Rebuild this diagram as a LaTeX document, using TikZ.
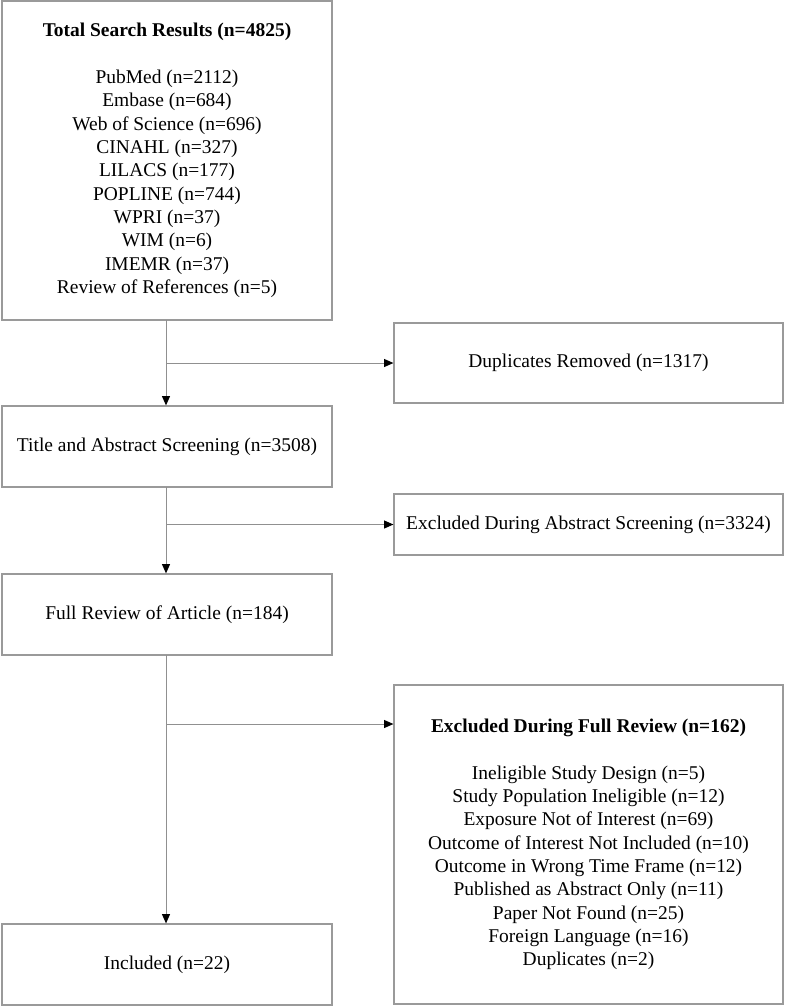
\documentclass[tikz,border=0pt]{standalone}
\usepackage{fontspec}
\setmainfont{Liberation Serif}
\usetikzlibrary{arrows.meta}
\definecolor{boxgray}{HTML}{9A9A9A}
\definecolor{linegray}{HTML}{909090}
\begin{document}
\begin{tikzpicture}[x=0.75pt,y=-0.75pt,
  box/.style={draw=boxgray,line width=0.9pt,fill=white,inner sep=0pt,align=center,
    font=\fontsize{14.6pt}{17.5pt}\selectfont},
  conn/.style={draw=linegray,line width=0.75pt,-{Triangle[length=7pt,width=6pt,color=black]}}]
\useasboundingbox (0,0) rectangle (786,1007);
\node[box,minimum width=330*0.75pt,minimum height=319*0.75pt] (tsr) at (167,160.5)
  {\textbf{Total Search Results (n=4825)}\\[17.5pt]
   PubMed (n=2112)\\ Embase (n=684)\\ Web of Science (n=696)\\ CINAHL (n=327)\\
   LILACS (n=177)\\ POPLINE (n=744)\\ WPRI (n=37)\\ WIM (n=6)\\ IMEMR (n=37)\\
   Review of References (n=5)};
\node[box,minimum width=389*0.75pt,minimum height=80*0.75pt] (dup) at (588.5,363)
  {Duplicates Removed (n=1317)};
\node[box,minimum width=330*0.75pt,minimum height=81*0.75pt] (title) at (167,446.5)
  {Title and Abstract Screening (n=3508)};
\node[box,minimum width=389*0.75pt,minimum height=61*0.75pt] (exa) at (588.5,524.5)
  {Excluded During Abstract Screening (n=3324)};
\node[box,minimum width=330*0.75pt,minimum height=81*0.75pt] (full) at (167,614.5)
  {Full Review of Article (n=184)};
\node[box,minimum width=389*0.75pt,minimum height=319*0.75pt] (exf) at (588.5,844.5)
  {\textbf{Excluded During Full Review (n=162)}\\[17.5pt]
   Ineligible Study Design (n=5)\\ Study Population Ineligible (n=12)\\
   Exposure Not of Interest (n=69)\\ Outcome of Interest Not Included (n=10)\\
   Outcome in Wrong Time Frame (n=12)\\ Published as Abstract Only (n=11)\\
   Paper Not Found (n=25)\\ Foreign Language (n=16)\\ Duplicates (n=2)};
\node[box,minimum width=330*0.75pt,minimum height=81*0.75pt] (inc) at (167,964.5)
  {Included (n=22)};
\coordinate (t1) at (166,320);
\coordinate (t2) at (166,487);
\coordinate (t3) at (166,655);
\coordinate (b1) at (166,363);
\coordinate (b2) at (166,524.5);
\coordinate (b3) at (166,724);
\draw[conn] (t1) -- (title.north -| t1);
\draw[conn] (b1) -- (dup.west);
\draw[conn] (t2) -- (full.north -| t2);
\draw[conn] (b2) -- (exa.west);
\draw[conn] (t3) -- (inc.north -| t3);
\draw[conn] (b3) -- (exf.west |- b3);
\end{tikzpicture}
\end{document}
